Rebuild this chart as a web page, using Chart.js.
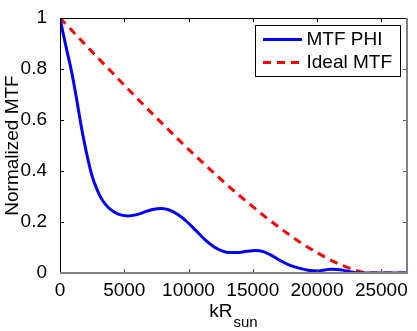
<!DOCTYPE html>
<html>
<head>
<meta charset="utf-8">
<script src="https://cdn.jsdelivr.net/npm/chart.js@4/dist/chart.umd.min.js"></script>
<style>
html,body{margin:0;padding:0;background:#fff;}
canvas{display:block;}
</style>
</head>
<body>
<canvas id="c" width="417" height="331"></canvas>
<script>
// ---- data ----
const kPhi = [0, 200, 500, 900, 1300, 1600, 1900, 2200, 2500, 2900, 3300, 3800, 4300, 4800, 5300, 5900, 6500, 7200, 7900, 8500, 9200, 9900, 10600, 11300, 12000, 12600, 13200, 13800, 14500, 15200, 15800, 16500, 17200, 17900, 18600, 19300, 20000, 20600, 21100, 21600, 22200, 22800, 23300, 24000, 25000, 26000, 27000];
const mtfPhi = [1.0, 0.95, 0.88, 0.79, 0.68, 0.59, 0.51, 0.44, 0.38, 0.325, 0.285, 0.255, 0.237, 0.227, 0.224, 0.228, 0.238, 0.249, 0.253, 0.247, 0.228, 0.200, 0.165, 0.130, 0.102, 0.087, 0.080, 0.080, 0.085, 0.088, 0.084, 0.068, 0.047, 0.030, 0.019, 0.011, 0.008, 0.012, 0.015, 0.014, 0.009, 0.003, 0, 0, 0, 0, 0];
const kIdeal = [0, 1000, 2000, 3000, 4000, 5000, 6000, 7000, 8000, 9000, 10000, 11000, 12000, 13000, 14000, 15000, 16000, 17000, 18000, 19000, 20000, 21000, 22000, 23000, 24000, 25000, 26000, 27000];
const mtfIdeal = [1.0, 0.947, 0.894, 0.841, 0.789, 0.737, 0.685, 0.634, 0.584, 0.534, 0.485, 0.438, 0.391, 0.346, 0.302, 0.260, 0.219, 0.181, 0.144, 0.110, 0.080, 0.052, 0.029, 0.011, 0, 0, 0, 0];
const seriesNames = ["MTF PHI", "Ideal MTF"];
const xTicks = [0, 5000, 10000, 15000, 20000, 25000];
const yTicks = [0, 0.2, 0.4, 0.6, 0.8, 1];
const xTitle = "kR";
const xTitleSub = "sun";
const yTitle = "Normalized MTF";

const FONT = '"Liberation Sans", Arial, Helvetica, sans-serif';

const framePlugin = {
  id: 'frame',
  afterDraw(chart) {
    const ctx = chart.ctx;
    const a = chart.chartArea;
    const xs = chart.scales.x, ys = chart.scales.y;
    ctx.save();
    // ticks (inside)
    const tl = 4;
    ctx.lineWidth = 1;
    xTicks.forEach(v => {
      const px = Math.round(xs.getPixelForValue(v)) + 0.5;
      ctx.strokeStyle = '#000';
      ctx.beginPath(); ctx.moveTo(px, a.top); ctx.lineTo(px, a.top + tl); ctx.stroke();
      ctx.strokeStyle = '#555';
      ctx.beginPath(); ctx.moveTo(px, a.bottom); ctx.lineTo(px, a.bottom - tl); ctx.stroke();
    });
    yTicks.forEach(v => {
      const py = Math.round(ys.getPixelForValue(v)) + 0.5;
      ctx.strokeStyle = '#000';
      ctx.beginPath(); ctx.moveTo(a.left, py); ctx.lineTo(a.left + tl, py); ctx.stroke();
      ctx.strokeStyle = '#555';
      ctx.beginPath(); ctx.moveTo(a.right, py); ctx.lineTo(a.right - tl, py); ctx.stroke();
    });
    // frame
    ctx.strokeStyle = '#000';
    ctx.lineWidth = 1;
    ctx.beginPath();
    ctx.moveTo(a.left + 0.5, a.bottom); ctx.lineTo(a.left + 0.5, a.top + 0.5); ctx.lineTo(a.right, a.top + 0.5);
    ctx.stroke();
    ctx.strokeStyle = '#808080';
    ctx.lineWidth = 2;
    ctx.beginPath();
    ctx.moveTo(a.left, a.bottom); ctx.lineTo(a.right, a.bottom); ctx.lineTo(a.right, a.top);
    ctx.stroke();

    // legend
    const lx = 255.5, ly = 25.5, lw = 145, lh = 51;
    ctx.fillStyle = '#fff';
    ctx.fillRect(lx, ly, lw, lh);
    ctx.strokeStyle = '#000';
    ctx.lineWidth = 1;
    ctx.strokeRect(lx, ly, lw, lh);
    ctx.font = '19px ' + FONT;
    ctx.textBaseline = 'middle';
    ctx.textAlign = 'left';
    chart.data.datasets.forEach((ds, i) => {
      const yy = 39.5 + i * 23;
      ctx.strokeStyle = ds.borderColor;
      ctx.lineWidth = ds.borderWidth;
      ctx.setLineDash(ds.borderDash || []);
      ctx.beginPath(); ctx.moveTo(263, yy); ctx.lineTo(302, yy); ctx.stroke();
      ctx.setLineDash([]);
      ctx.fillStyle = '#000';
      ctx.fillText(ds.label, 306.5, yy);
    });

    // x title with subscript
    ctx.fillStyle = '#000';
    ctx.textBaseline = 'alphabetic';
    ctx.font = '19px ' + FONT;
    const w1 = ctx.measureText(xTitle).width;
    ctx.font = '15px ' + FONT;
    const w2 = ctx.measureText(xTitleSub).width;
    const cx = (a.left + a.right) / 2;
    const x0 = cx - (w1 + w2 + 1) / 2;
    ctx.font = '19px ' + FONT;
    ctx.fillText(xTitle, x0, 316.5);
    ctx.font = '15px ' + FONT;
    ctx.fillText(xTitleSub, x0 + w1 + 1, 326.5);

    // y title
    ctx.save();
    ctx.translate(17.5, (a.top + a.bottom) / 2);
    ctx.rotate(-Math.PI / 2);
    ctx.font = '19px ' + FONT;
    ctx.textAlign = 'center';
    ctx.textBaseline = 'alphabetic';
    ctx.fillText(yTitle, 0, 0);
    ctx.restore();

    ctx.restore();
  }
};

new Chart(document.getElementById('c'), {
  type: 'line',
  data: {
    datasets: [
      {
        label: seriesNames[0],
        data: kPhi.map((k, i) => ({x: k, y: mtfPhi[i]})),
        borderColor: '#0000ff',
        borderWidth: 3,
        pointRadius: 0,
        fill: false,
        cubicInterpolationMode: 'monotone'
      },
      {
        label: seriesNames[1],
        data: kIdeal.map((k, i) => ({x: k, y: mtfIdeal[i]})),
        borderColor: '#ff0000',
        borderWidth: 3,
        borderDash: [8, 6],
        pointRadius: 0,
        fill: false,
        cubicInterpolationMode: 'monotone'
      }
    ]
  },
  options: {
    responsive: false,
    animation: false,
    devicePixelRatio: 1,
    layout: { padding: { top: 18, right: 10, left: 0, bottom: 0 } },
    plugins: { legend: { display: false }, tooltip: { enabled: false } },
    scales: {
      x: {
        type: 'linear',
        min: 0, max: 27000,
        afterBuildTicks: s => { s.ticks = xTicks.map(v => ({value: v})); },
        afterFit: s => { s.height = 58; },
        grid: { display: false },
        border: { display: false },
        ticks: { color: '#000', font: { family: FONT, size: 19 }, padding: -2, maxRotation: 0, autoSkip: false, callback: v => String(v) }
      },
      y: {
        min: 0, max: 1,
        afterBuildTicks: s => { s.ticks = yTicks.map(v => ({value: v})); },
        afterFit: s => { s.width = 60; },
        grid: { display: false },
        border: { display: false },
        ticks: { color: '#000', font: { family: FONT, size: 19 }, padding: 5, callback: v => String(v) }
      }
    }
  },
  plugins: [framePlugin]
});
</script>
</body>
</html>
